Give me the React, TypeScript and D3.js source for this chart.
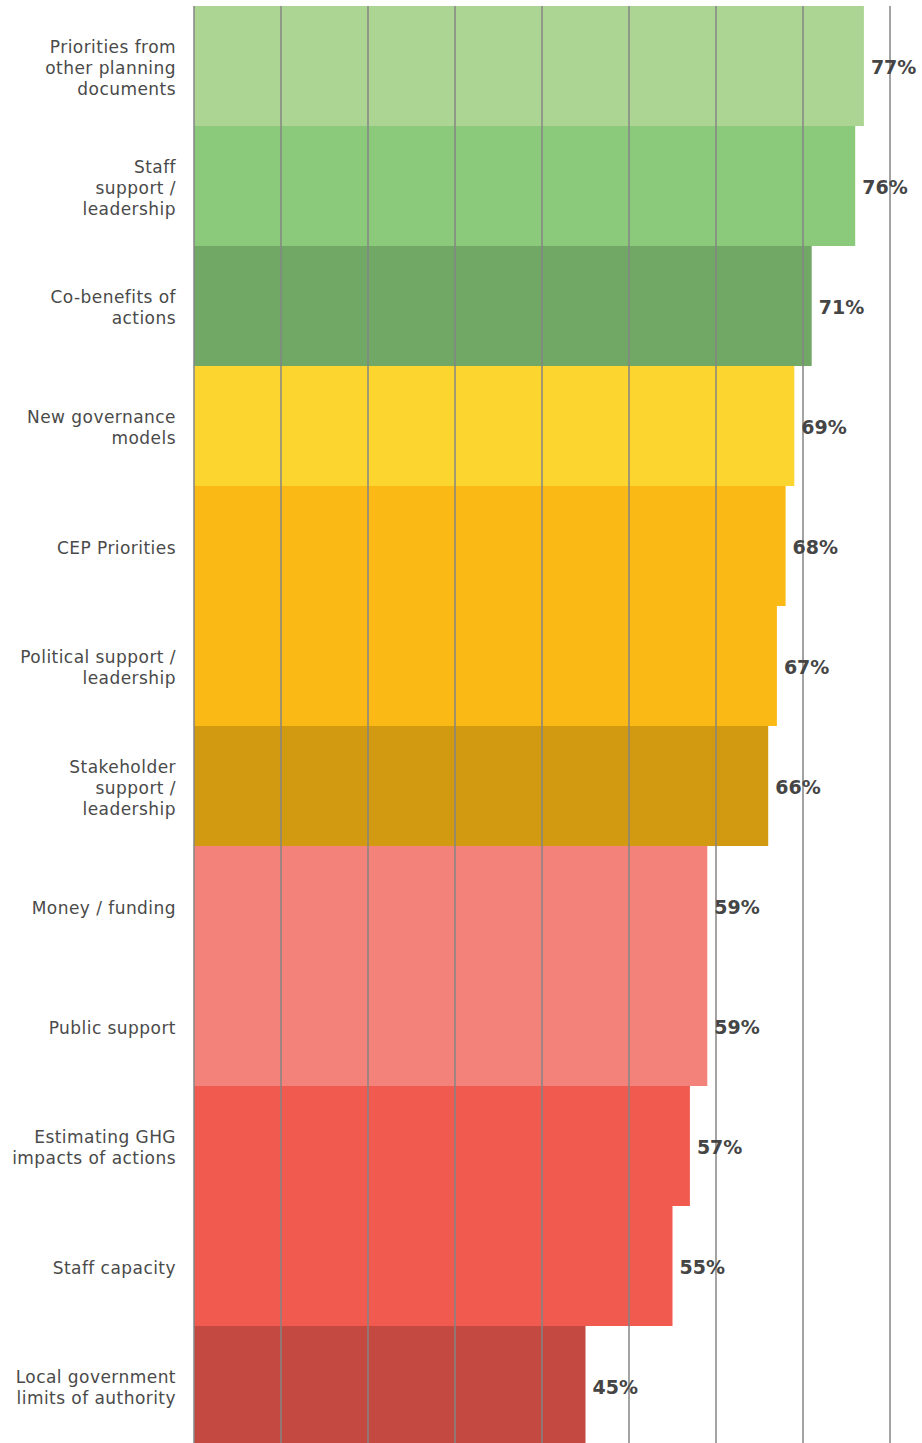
import * as React from "react";
import { scaleLinear, scaleBand, range } from "d3";

const categories = [
  ["Priorities from", "other planning", "documents"],
  ["Staff", "support /", "leadership"],
  ["Co-benefits of", "actions"],
  ["New governance", "models"],
  ["CEP Priorities"],
  ["Political support /", "leadership"],
  ["Stakeholder", "support /", "leadership"],
  ["Money / funding"],
  ["Public support"],
  ["Estimating GHG", "impacts of actions"],
  ["Staff capacity"],
  ["Local government", "limits of authority"],
];
const values = [77, 76, 71, 69, 68, 67, 66, 59, 59, 57, 55, 45];
const colors = [
  "#acd593", "#8bca7b", "#71a865", "#fdd52f", "#fbb916", "#fbb916",
  "#d19a11", "#f3837a", "#f3837a", "#f05a4f", "#f05a4f", "#c44a41",
];
const gridTicks = [0, 10, 20, 30, 40, 50, 60, 70, 80];

export default function App() {
  const width = 922;
  const height = 1443;
  const x = scaleLinear().domain([0, 80]).range([194, 890]);
  const y = scaleBand<number>()
    .domain(range(values.length))
    .range([6, 1446])
    .padding(0);
  const lineH = 21;

  return (
    <svg
      width={width}
      height={height}
      style={{ position: "absolute", left: 0, top: 0 }}
    >
      {values.map((v, i) => (
        <rect
          key={"b" + i}
          x={x(0)}
          y={y(i)}
          width={x(v) - x(0)}
          height={y.bandwidth()}
          fill={colors[i]}
        />
      ))}
      {gridTicks.map((t) => (
        <line
          key={"g" + t}
          x1={x(t)}
          x2={x(t)}
          y1={6}
          y2={height}
          stroke="#858585"
          strokeWidth={1.5}
        />
      ))}
      {categories.map((lines, i) => {
        const cy = y(i)! + y.bandwidth() / 2 + 1.5;
        const start = cy - ((lines.length - 1) * lineH) / 2;
        return (
          <text
            key={"l" + i}
            textAnchor="end"
            fontFamily="'DejaVu Sans', sans-serif"
            fontSize={17}
            letterSpacing={0.45}
            fill="#4a4a4a"
          >
            {lines.map((s, j) => (
              <tspan key={j} x={176} y={start + j * lineH} dy="0.36em">
                {s}
              </tspan>
            ))}
          </text>
        );
      })}
      {values.map((v, i) => (
        <text
          key={"v" + i}
          x={x(v) + 7}
          y={y(i)! + y.bandwidth() / 2 + 1.5}
          dy="0.36em"
          fontFamily="'DejaVu Sans', sans-serif"
          fontWeight="bold"
          fontSize={19}
          fill="#454545"
        >
          {v}%
        </text>
      ))}
    </svg>
  );
}
